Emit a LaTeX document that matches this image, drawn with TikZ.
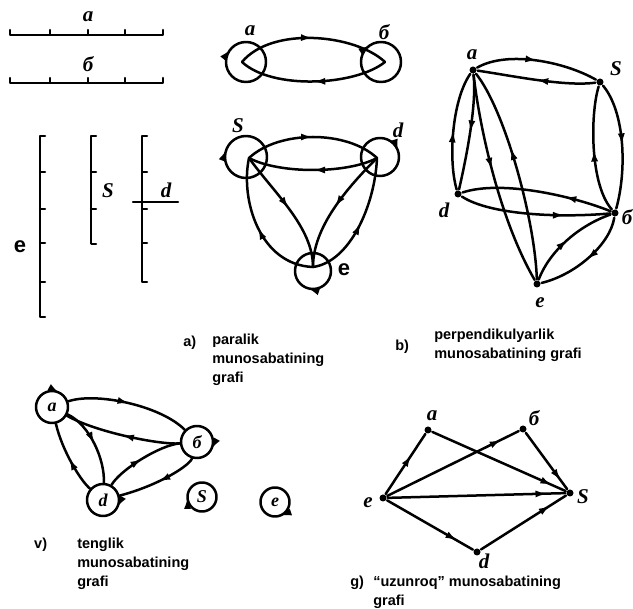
\documentclass[tikz,border=0pt]{standalone}
\usepackage{fontspec}
\setmainfont{Liberation Sans}
\newfontfamily\handfont{Liberation Serif}
\usetikzlibrary{arrows.meta,decorations.markings,positioning}

\begin{document}
\begin{tikzpicture}[x=1pt, y=-1pt, line width=2.5pt, line cap=round, line join=round,
        edge/.style={postaction={decorate}, decoration={markings, mark=at position #1 with {\arrow{Latex[length=12pt,width=7pt]}}}},
        edge/.default=0.5,
        vtx/.style={circle, fill, inner sep=0pt, minimum size=7pt},
        lbl/.style={font=\handfont\bfseries\itshape\fontsize{21}{21}\selectfont, inner sep=0pt},
        elbl/.style={font=\bfseries\fontsize{22}{22}\selectfont, inner sep=0pt},
        ring/.style={circle, minimum size=32pt, inner sep=0pt, font=\handfont\bfseries\itshape\fontsize{18}{18}\selectfont},
        captext/.style={font=\bfseries\fontsize{14.5}{19}\selectfont, align=left, anchor=north west, inner sep=0pt}
    ]
    \useasboundingbox (0,0) rectangle (633,609);

    % Kesmalar a va b
    \draw (10,30) |- (163,35) -- (163,30) (50,35) -- (50,30) (88,35) -- (88,30) (125,35) -- (125,30);
    \node[lbl] (seg_a) at (88,17) {a};
    \draw (10,78) |- (163,83) -- (163,78) (50,83) -- (50,78) (88,83) -- (88,78) (125,83) -- (125,78);
    \node[lbl] (seg_b) at (88,64) {б};

    % Kesmalar e, S, d
    \draw (45,136) -| (40,317) -- (45,317) (40,172) -- (45,172) (40,209) -- (45,209) (40,243) -- (45,243) (40,282) -- (45,282);
    \node[elbl] (seg_e) at (20,247) {e};
    \draw (96,136) -| (91,220) (91,172) -- (96,172) (91,209) -- (96,209);
    \draw[densely dotted] (91,220) -- (91,244) -- (96,244);
    \node[lbl] (seg_s) at (108,191) {S};
    \draw (147,136) -| (142,282) -- (147,282) (142,172) -- (147,172) (142,209) -- (147,209) (142,243) -- (147,243);
    \draw (133,202) -- (178,202);
    \node[lbl] (seg_d) at (166,190) {d};

    % a) yuqori graf
    \coordinate (A1) at (242,62);
    \coordinate (B1) at (385,62);
    \node[lbl] (lA1) at (250,31) {a};
    \node[lbl] (lB1) at (384,32) {б};
    \draw[edge=0.61] (246,62) circle[radius=20];
    \draw[edge=0.66] (381,62) circle[radius=20];
    \draw[edge] (A1) .. controls +(30,-36) and +(-30,-28) .. (B1);
    \draw[edge] (B1) .. controls +(-30,24) and +(30,28) .. (A1);

    % a) pastki graf
    \coordinate (S2) at (249,158);
    \coordinate (D2) at (377,158);
    \coordinate (E2) at (313,267);
    \node[lbl] (lS2) at (238,126) {S};
    \node[lbl] (lD2) at (398,130) {d};
    \node[elbl] (lE2) at (344,270) {e};
    \draw[edge=0.56] (246,157) circle[radius=21];
    \draw[edge=0.95] (380,157) circle[radius=19];
    \draw[edge=0.3] (313,271) circle[radius=18];
    \draw[edge] (S2) .. controls +(30,-28) and +(-30,-28) .. (D2);
    \draw[edge] (D2) .. controls +(-30,16) and +(30,16) .. (S2);
    \draw[edge] (S2) .. controls +(25,35) and +(0,-40) .. (E2);
    \draw[edge] (D2) .. controls +(-30,30) and +(0,-40) .. (E2);
    \draw[edge] (E2) .. controls +(-53,-2) and +(-9,42) .. (S2);
    \draw[edge] (E2) .. controls +(37,-5) and +(-2,47) .. (D2);

    % b) graf
    \node[vtx] (Ab) at (473,70) {};
    \node[vtx] (Sb) at (600,82) {};
    \node[vtx] (Db) at (458,194) {};
    \node[vtx] (Bb) at (615,213) {};
    \node[vtx] (Eb) at (537,284) {};
    \node[lbl] (lAb) at (472,55) {a};
    \node[lbl] (lSb) at (616,69) {S};
    \node[lbl] (lDb) at (444,210) {d};
    \node[lbl] (lBb) at (627,217) {б};
    \node[lbl] (lEb) at (540,303) {e};
    \draw[edge] (Ab) .. controls +(35,-20) and +(-35,-20) .. (Sb);
    \draw[edge] (Sb) .. controls +(-35,5) and +(35,5) .. (Ab);
    \draw[edge] (Sb) .. controls +(25,30) and +(12,-43) .. (Bb);
    \draw[edge] (Bb) .. controls +(-25,-28) and +(-10,33) .. (Sb);
    \draw[edge] (Db) .. controls +(-10,-34) and +(-21,30) .. (Ab);
    \draw[edge] (Ab) .. controls +(4,35) and +(8,-35) .. (Db);
    \draw[edge=0.45] (Ab) .. controls +(7,60) and +(-37,-64) .. (Eb);
    \draw[edge=0.62] (Eb) .. controls +(-2,-64) and +(32,40) .. (Ab);
    \draw[edge=0.32] (Bb) .. controls +(-45,-18) and +(42,-14) .. (Db);
    \draw[edge=0.7] (Db) .. controls +(32,21) and +(-55,5) .. (Bb);
    \draw[edge] (Bb) .. controls +(-5,32) and +(38,-9) .. (Eb);
    \draw[edge] (Eb) .. controls +(13,-34) and +(-35,12) .. (Bb);

    % v) graf
    \node[ring] (Av) at (52,407) {a};
    \node[ring] (Bv) at (197,442) {б};
    \node[ring] (Dv) at (103,500) {d};
    \node[ring, minimum size=29pt] (Sv) at (202,497) {S};
    \node[ring, minimum size=29pt] (Ev) at (275,502) {e};
    \draw[edge=0.83] (Av.center) circle[radius=16];
    \draw[edge=0.08] (Bv.center) circle[radius=16];
    \draw[edge=0.08] (Dv.center) circle[radius=16];
    \draw[edge=0.5] (Sv.center) circle[radius=14.5];
    \draw[edge=0.2] (Ev.center) circle[radius=14.5];
    \draw[edge] (Av) .. controls +(43,-15) and +(-37,-37) .. (Bv);
    \draw[edge] (Bv) .. controls +(-37,3) and +(43,25) .. (Av);
    \draw[edge] (Av) .. controls +(38,18) and +(2,-40) .. (Dv);
    \draw[edge] (Dv) .. controls +(-23,-20) and +(10,43) .. (Av);
    \draw[edge] (Dv) .. controls +(17,-30) and +(-37,3) .. (Bv);
    \draw[edge] (Bv) .. controls +(-7,23) and +(57,-15) .. (Dv);

    % g) graf
    \node[vtx] (Eg) at (383,498) {};
    \node[vtx] (Ag) at (428,430) {};
    \node[vtx] (Bg) at (523,429) {};
    \node[vtx] (Sg) at (570,493) {};
    \node[vtx] (Dg) at (477,552) {};
    \node[lbl] (lEg) at (368,503) {e};
    \node[lbl] (lAg) at (432,416) {a};
    \node[lbl] (lBg) at (534,418) {б};
    \node[lbl] (lSg) at (583,497) {S};
    \node[lbl] (lDg) at (484,561) {d};
    \draw[edge=0.65] (Eg) -- (Ag);
    \draw[edge=0.87] (Eg) -- (Bg);
    \draw[edge=0.9] (Ag) -- (Sg);
    \draw[edge=0.85] (Bg) -- (Sg);
    \draw[edge=0.9] (Eg) -- (Sg);
    \draw[edge=0.82] (Eg) -- (Dg);
    \draw[edge=0.82] (Dg) -- (Sg);

    % Izohlar
    \node[captext] (capAl) at (182,335) {a)};
    \node[captext] (capA) at (211,333) {paralik\\munosabatining\\grafi};
    \node[captext] (capBl) at (394,339) {b)};
    \node[captext] (capB) at (433,328) {perpendikulyarlik\\munosabatining grafi};
    \node[captext] (capVl) at (33,537) {v)};
    \node[captext] (capV) at (76,537) {tenglik\\munosabatining\\grafi};
    \node[captext] (capGl) at (349,575) {g)};
    \node[captext] (capG) at (372,575) {“uzunroq” munosabatining\\grafi};

\end{tikzpicture}
\end{document}
